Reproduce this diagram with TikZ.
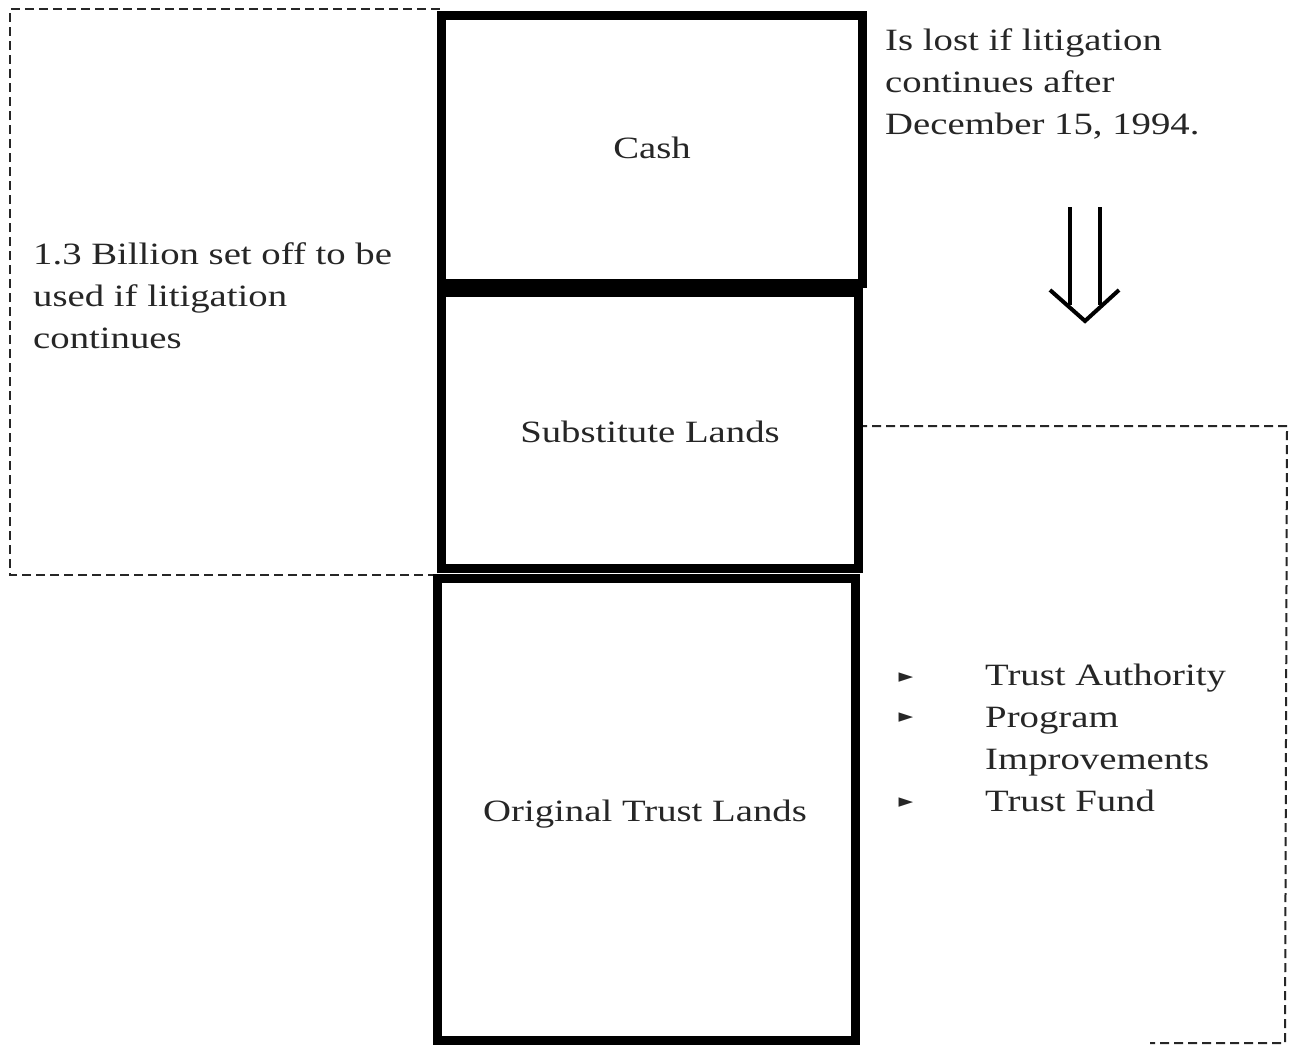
\documentclass[tikz,border=0pt]{standalone}
\usepackage{fontspec}
\setmainfont{Liberation Serif}[FakeStretch=1.25]
\newfontfamily\symfont{DejaVu Sans}
\begin{document}
\begin{tikzpicture}[x=1pt,y=-1pt,
  stackbox/.style={draw=black, line width=9pt, inner sep=0pt},
  dashbox/.style={draw=black!85, dashed, line width=2pt, dash pattern=on 9pt off 5pt},
  lbl/.style={font=\fontsize{31}{42}\selectfont, text=black!85, inner sep=0pt},
  para/.style={lbl, align=left, anchor=north west},
  bul/.style={font=\symfont\fontsize{19}{19}\selectfont, text=black!85, inner sep=0pt},
  arr/.style={draw=black, line width=4pt}
]
\useasboundingbox (0,0) rectangle (1292,1046);
\fill[white] (0,0) rectangle (1292,1046);

% dashed frames
\draw[dashbox] (437,575) -- (10,575) -- (10,9) -- (440,9);
\draw[dashbox] (858,426) -- (1287,426) -- (1285,1043) -- (1150,1043);

% stack of boxes
\node[stackbox, minimum width=421pt, minimum height=267pt] (cash) at (651.5,149.5) {};
\node[stackbox, minimum width=417pt, minimum height=276pt] (subst) at (649.5,430) {};
\node[stackbox, minimum width=418pt, minimum height=462pt] (orig) at (646,809) {};

\node[lbl] (cashT) at (652,148) {Cash};
\node[lbl] (substT) at (650,432) {Substitute Lands};
\node[lbl] (origT) at (645,814) {Original Trust Lands};

% side texts
\node[para] (lost) at (885,28) {Is lost if litigation\\continues after\\December 15, 1994.};
\node[para] (billion) at (33,242) {1.3 Billion set off to be\\used if litigation\\continues};

% double arrow
\coordinate (a1) at (1070,207);
\coordinate (b1) at (1100,207);
\draw[arr] (a1) -- (1070,305);
\draw[arr] (b1) -- (1100,305);
\coordinate (vl) at (1050,290);
\coordinate (vt) at (1085,321);
\coordinate (vr) at (1119,290);
\draw[arr, line join=miter] (vl) -- (vt) -- (vr);

% bullet list
\node[bul] (p1) at (906,678) {►};
\node[bul] (p2) at (906,718) {►};
\node[bul] (p3) at (906,803) {►};
\node[para] (list) at (985,664) {Trust Authority\\Program\\Improvements\\Trust Fund};
\end{tikzpicture}
\end{document}
